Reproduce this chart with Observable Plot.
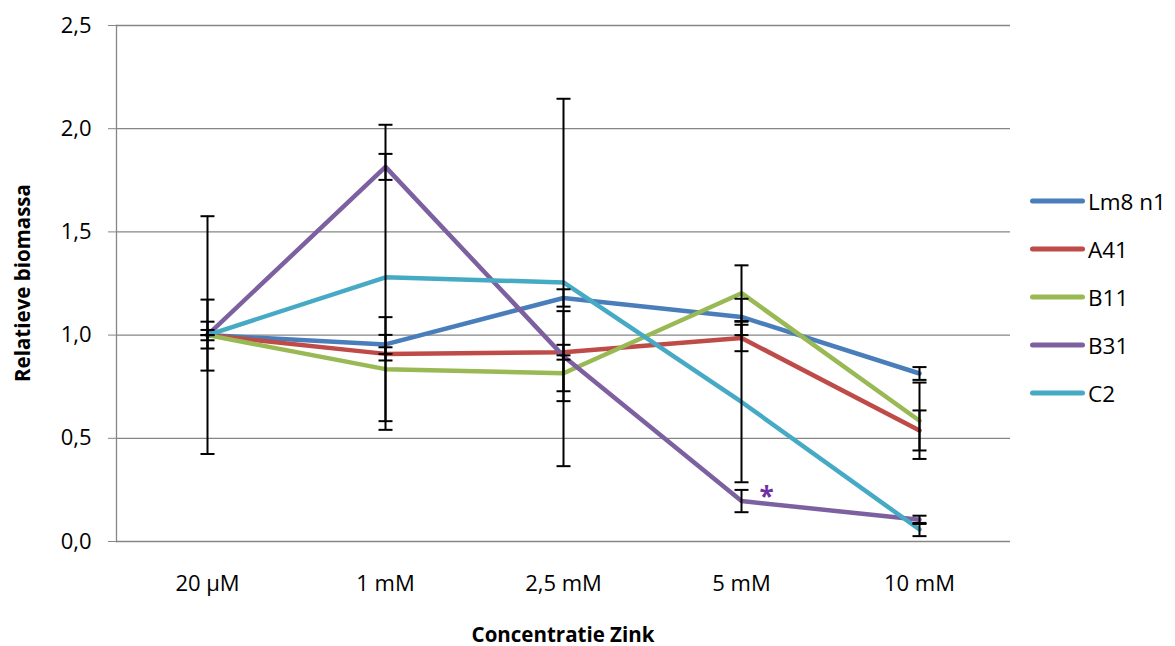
<!DOCTYPE html>
<html>
<head>
<meta charset="utf-8">
<script src="https://cdn.jsdelivr.net/npm/d3@7"></script>
<script src="https://cdn.jsdelivr.net/npm/@observablehq/plot@0.6"></script>
<style>
  html, body { margin: 0; padding: 0; background: #fff; }
  #wrap { position: relative; width: 1175px; height: 646px; font-family: "Open Sans", "Noto Sans", sans-serif; color: #000; }
  .ylab { position: absolute; left: 22px; top: 283px; transform: translate(-50%, -50%) rotate(-90deg); font-weight: bold; font-size: 20.5px; white-space: nowrap; }
  .xlab { position: absolute; left: 563px; top: 634px; transform: translate(-50%, -50%); font-weight: bold; font-size: 20.5px; white-space: nowrap; }
  .legend { position: absolute; left: 1030px; top: 0; }
  .item { position: absolute; left: 0; display: flex; align-items: center; white-space: nowrap; font-size: 22.5px; transform: translateY(-50%); }
  .sw { width: 55px; height: 5px; border-radius: 3px; margin-right: 3px; }
</style>
</head>
<body>
<div id="wrap"></div>
<script>
const categories = ["20 µM", "1 mM", "2,5 mM", "5 mM", "10 mM"];
const seriesNames = ["Lm8 n1", "A41", "B11", "B31", "C2"];
const lm8Values = [1.0, 0.955, 1.18, 1.088, 0.814];
const a41Values = [1.0, 0.909, 0.917, 0.986, 0.538];
const b11Values = [1.0, 0.835, 0.815, 1.203, 0.585];
const b31Values = [1.0, 1.815, 0.898, 0.196, 0.105];
const c2Values  = [1.0, 1.28, 1.255, 0.676, 0.058];
const lm8Errors = [0.172, 0.046, 0.042, 0.088, 0.031];
const a41Errors = [0.065, 0.032, 0.036, 0.064, 0.097];
const b11Errors = [0.025, 0.252, 0.087, 0.135, 0.185];
const b31Errors = [0.576, 0.063, 0.218, 0.054, 0.020];
const c2Errors  = [0.0, 0.739, 0.89, 0.389, 0.032];
const seriesColors = ["#4A7EBB", "#BE4B48", "#98B954", "#7D60A0", "#46AAC5"];
const yTicks = [0, 0.5, 1.0, 1.5, 2.0, 2.5];
const asteriskNote = [{cat: "5 mM", y: 0.21, text: "*"}];

const allValues = [lm8Values, a41Values, b11Values, b31Values, c2Values];
const allErrors = [lm8Errors, a41Errors, b11Errors, b31Errors, c2Errors];
const rows = [];
seriesNames.forEach((s, si) => {
  categories.forEach((c, ci) => {
    rows.push({series: s, cat: c, value: allValues[si][ci], err: allErrors[si][ci]});
  });
});
const fmt = d => d.toFixed(1).replace(".", ",");

// horizontal cap symbol for error bars
const capSymbol = {
  draw(context, size) {
    context.moveTo(-7, 0);
    context.lineTo(7, 0);
  }
};

const chart = Plot.plot({
  width: 1175,
  height: 646,
  marginLeft: 116,
  marginRight: 165,
  marginTop: 25,
  marginBottom: 105,
  style: {fontFamily: "'Open Sans', 'Noto Sans', sans-serif", fontSize: "22px", color: "#000", background: "white", overflow: "visible"},
  x: {type: "point", domain: categories, padding: 0.5, label: null},
  y: {domain: [0, 2.5], label: null},
  color: {domain: seriesNames, range: seriesColors},
  marks: [
    Plot.ruleY(yTicks, {stroke: "#868686", strokeWidth: 1.3}),
    Plot.frame({anchor: "left", stroke: "#868686", strokeWidth: 1.3}),
    Plot.axisY({ticks: yTicks, tickFormat: fmt, tickSize: 8, tickPadding: 17, stroke: "#868686", label: null}),
    Plot.axisX({tickSize: 0, tickPadding: 34, label: null}),
    Plot.line(rows, {x: "cat", y: "value", z: "series", stroke: "series", strokeWidth: 4.5, strokeLinejoin: "round", strokeLinecap: "round"}),
    Plot.ruleX(rows, {x: "cat", y1: d => d.value - d.err, y2: d => d.value + d.err, stroke: "black", strokeWidth: 2}),
    Plot.dot(rows, {x: "cat", y: d => d.value + d.err, symbol: capSymbol, stroke: "black", strokeWidth: 2, fill: "none"}),
    Plot.dot(rows, {x: "cat", y: d => d.value - d.err, symbol: capSymbol, stroke: "black", strokeWidth: 2, fill: "none"}),
    Plot.text(asteriskNote, {x: "cat", y: "y", text: "text", dx: 25, fill: "#7030A0", fontSize: 26, fontWeight: "bold"})
  ]
});

const wrap = document.getElementById("wrap");
wrap.appendChild(chart);

const ylab = document.createElement("div");
ylab.className = "ylab";
ylab.textContent = "Relatieve biomassa";
wrap.appendChild(ylab);

const xlab = document.createElement("div");
xlab.className = "xlab";
xlab.textContent = "Concentratie Zink";
wrap.appendChild(xlab);

const legend = document.createElement("div");
legend.className = "legend";
const legendTops = [201, 249, 297, 345, 393];
seriesNames.forEach((s, i) => {
  const it = document.createElement("div");
  it.className = "item";
  it.style.top = legendTops[i] + "px";
  const sw = document.createElement("div");
  sw.className = "sw";
  sw.style.background = seriesColors[i];
  const tx = document.createElement("span");
  tx.textContent = s;
  it.appendChild(sw);
  it.appendChild(tx);
  legend.appendChild(it);
});
wrap.appendChild(legend);
</script>
</body>
</html>
